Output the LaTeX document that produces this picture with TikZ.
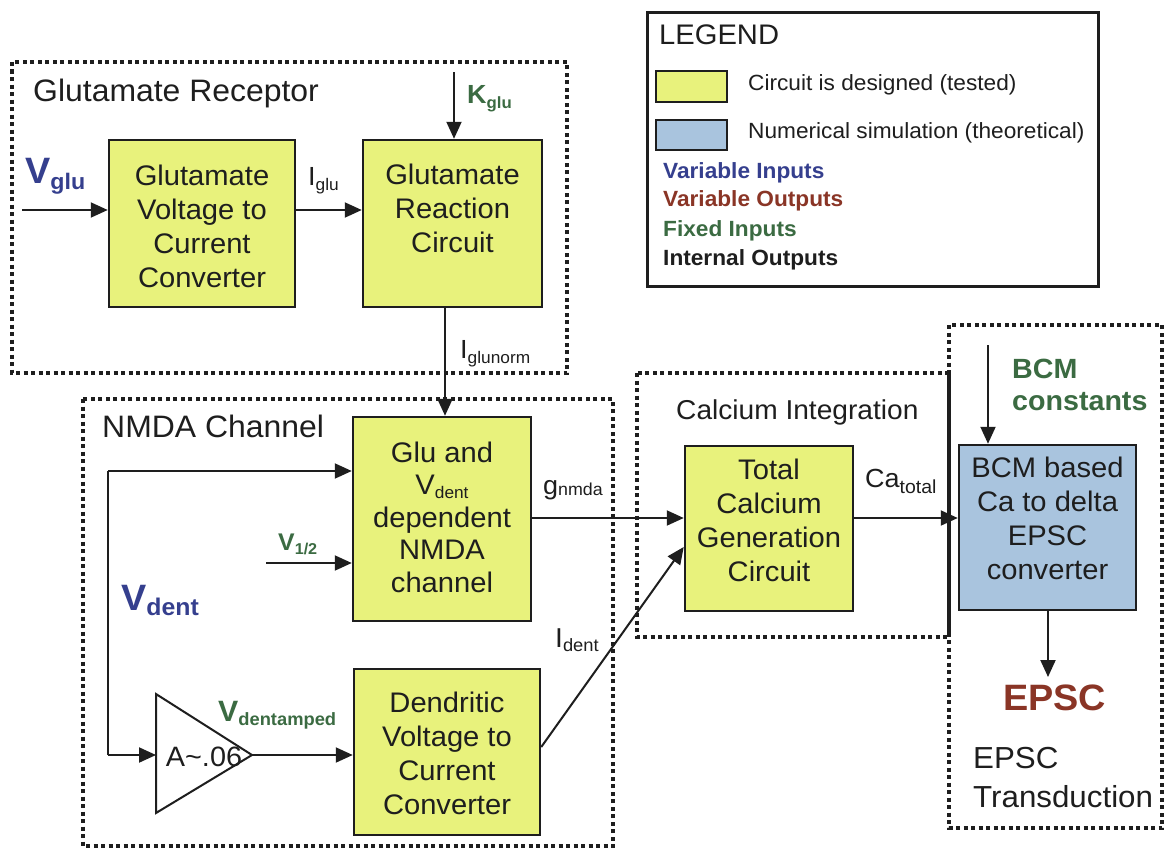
\documentclass[tikz,border=0pt]{standalone}
\usepackage{fontspec}
\setmainfont{Liberation Sans}[FakeStretch=1.03]
\usetikzlibrary{arrows.meta}
\definecolor{boxyellow}{HTML}{E8F27C}
\definecolor{boxblue}{HTML}{A9C4DE}
\definecolor{varin}{HTML}{353F8E}
\definecolor{varout}{HTML}{8A3526}
\definecolor{fixin}{HTML}{3B6B42}
\definecolor{ink}{HTML}{1E1E1E}
\newcommand{\fs}[1]{\fontsize{#1}{#1}\selectfont}
\newcommand{\sbs}[3]{\raisebox{-#2}{\fontsize{#1}{#1}\selectfont #3}}
\begin{document}
\begin{tikzpicture}[x=1pt,y=-1pt,
  dotbox/.style={draw=ink, line width=4pt, dash pattern=on 4pt off 3.5pt},
  blk/.style={draw=ink, line width=2.5pt, inner sep=0pt},
  ybox/.style={blk, fill=boxyellow},
  bbox/.style={blk, fill=boxblue},
  arr/.style={draw=ink, line width=2pt, -{Triangle[length=17pt,width=15pt]}},
  ln/.style={draw=ink, line width=2pt, line join=miter},
  boxtxt/.style={align=center, text=ink, inner sep=0pt, font=\fontsize{28.3}{34}\selectfont},
  lbl/.style={anchor=base west, inner sep=0pt, text=ink},
]
\useasboundingbox[fill=white] (0,0) rectangle (1164,851);

% group frames
\draw[dotbox] (12,62) rectangle (567,373);
\draw[dotbox] (83,399) rectangle (613,846);
\draw[dotbox] (637,373) rectangle (949,637);
\draw[dotbox] (949,325) rectangle (1162,828);
\draw[draw=ink, line width=4.5pt] (949,373) -- (949,637);

% group titles
\node[lbl, font=\fs{31}] (tglu) at (33,101) {Glutamate Receptor};
\node[lbl, font=\fs{31}] (tnmda) at (102,437) {NMDA Channel};
\node[lbl, font=\fs{27.3}] (tca) at (676,419) {Calcium Integration};
\node[lbl, font=\fs{30.4}] (tepsc1) at (973,768) {EPSC};
\node[lbl, font=\fs{30.4}] (tepsc2) at (973,807) {Transduction};

% legend
\node[draw=ink, line width=3pt, minimum width=451pt, minimum height=273pt, inner sep=0pt] (legend) at (872.5,149.5) {};
\node[lbl, font=\fs{28.3}] (legtitle) at (659,45) {LEGEND};
\node[ybox, minimum width=71pt, minimum height=31pt] (swy) at (691.5,86.5) {};
\node[bbox, minimum width=71pt, minimum height=30pt] (swb) at (691.5,135) {};
\node[lbl, font=\fs{22}] (legy) at (748,90) {Circuit is designed (tested)};
\node[lbl, font=\fs{22}] (legb) at (748,138) {Numerical simulation (theoretical)};
\node[lbl, font=\fs{22}\bfseries, text=varin] (legvi) at (663,178) {Variable Inputs};
\node[lbl, font=\fs{22}\bfseries, text=varout] (legvo) at (663,206) {Variable Outputs};
\node[lbl, font=\fs{22}\bfseries, text=fixin] (legfi) at (663,236) {Fixed Inputs};
\node[lbl, font=\fs{22}\bfseries, text=ink] (legio) at (663,265) {Internal Outputs};

% coordinates for free ends and bends
\coordinate (vgin) at (22,210);
\coordinate (kin) at (454,72);
\coordinate (gnx) at (445,0);
\coordinate (vdtop) at (108,471);
\coordinate (vdbot) at (108,755);
\coordinate (vhin) at (266,563);
\coordinate (bcin) at (988,345);
\coordinate (epx) at (1048,677);

% triangle amplifier
\coordinate (ampin) at (156,755);
\coordinate (ampout) at (252,755);
\draw[ln, fill=white] (156,694) -- (ampout) -- (156,813) -- cycle;
\node[inner sep=0pt, text=ink, font=\fs{28}] (ampt) at (204,757) {A\textasciitilde.06};

% blocks
\node[ybox, minimum width=186pt, minimum height=167pt] (b1) at (202,223.5) {};
\node[ybox, minimum width=179pt, minimum height=167pt] (b2) at (452.5,223.5) {};
\node[ybox, minimum width=178pt, minimum height=204pt] (b3) at (442,519) {};
\node[ybox, minimum width=186pt, minimum height=166pt] (b4) at (447,752) {};
\node[ybox, minimum width=168pt, minimum height=165pt] (b5) at (769,528.5) {};
\node[bbox, minimum width=177pt, minimum height=165pt] (b6) at (1047.5,527.5) {};

% connectors
\draw[arr] (vgin) -- (vgin -| b1.west);
\draw[arr] (b1.east |- vgin) -- (b2.west |- vgin);
\draw[arr] (kin) -- (kin |- b2.north);
\draw[arr] (b2.south -| gnx) -- (b3.north -| gnx);
\draw[ln] (vdbot) -- (vdtop);
\draw[arr] (vdtop) -- (vdtop -| b3.west);
\draw[arr] (vdbot) -- (ampin);
\draw[arr] (ampout) -- (ampout -| b4.west);
\draw[arr] (vhin) -- (vhin -| b3.west);
\draw[arr] (b3.east |- 0,518) -- (b5.west |- 0,518);
\draw[arr] (b4.east |- 0,747) -- (b5.west |- 0,547);
\draw[arr] (b5.east |- 0,518) -- (b6.west |- 0,518);
\draw[arr] (bcin) -- (bcin |- b6.north);
\draw[arr] (b6.south -| epx) -- (epx);

\node[boxtxt] (b1t) at (202,226) {Glutamate\\Voltage to\\Current\\Converter};
\node[boxtxt] (b2t) at (452.5,208) {Glutamate\\Reaction\\Circuit};
\node[boxtxt, font=\fontsize{28.3}{32.5}\selectfont] (b3t) at (442,517) {Glu and\\V\sbs{16.8}{4pt}{dent}\\dependent\\NMDA\\channel};
\node[boxtxt] (b4t) at (447,753) {Dendritic\\Voltage to\\Current\\Converter};
\node[boxtxt] (b5t) at (769,520) {Total\\Calcium\\Generation\\Circuit};
\node[boxtxt] (b6t) at (1047.5,518) {BCM based\\Ca to delta\\EPSC\\converter};

% signal labels
\node[lbl, font=\fs{36.7}\bfseries, text=varin] (lvglu) at (25,183) {V\sbs{22.5}{6pt}{glu}};
\node[lbl, font=\fs{26.2}\bfseries, text=fixin] (lkglu) at (467,103) {K\sbs{16.3}{5pt}{glu}};
\node[lbl, font=\fs{26.2}] (liglu) at (308,185) {I\sbs{16.8}{5pt}{glu}};
\node[lbl, font=\fs{26.2}] (liglun) at (460,358) {I\sbs{16.8}{5pt}{glunorm}};
\node[lbl, font=\fs{26.2}] (lgnmda) at (543,494) {g\sbs{17.3}{1pt}{nmda}};
\node[lbl, font=\fs{27.3}] (lident) at (555,647) {I\sbs{17.8}{4pt}{dent}};
\node[lbl, font=\fs{26.2}] (lca) at (865,487) {Ca\sbs{18.9}{6pt}{total}};
\node[lbl, font=\fs{24.1}\bfseries, text=fixin] (lvhalf) at (278,550) {V\sbs{15.7}{4pt}{1/2}};
\node[lbl, font=\fs{36.7}\bfseries, text=varin] (lvdent) at (121,610) {V\sbs{24.1}{5pt}{dent}};
\node[lbl, font=\fs{29.4}\bfseries, text=fixin] (lvamp) at (218,721) {V\sbs{17.8}{4pt}{dentamped}};
\node[lbl, font=\fs{27.8}\bfseries, text=fixin] (lbcm1) at (1012,378) {BCM};
\node[lbl, font=\fs{27.8}\bfseries, text=fixin] (lbcm2) at (1012,410) {constants};
\node[lbl, font=\fs{36.7}\bfseries, text=varout] (lepsc) at (1003,710) {EPSC};
\end{tikzpicture}
\end{document}
